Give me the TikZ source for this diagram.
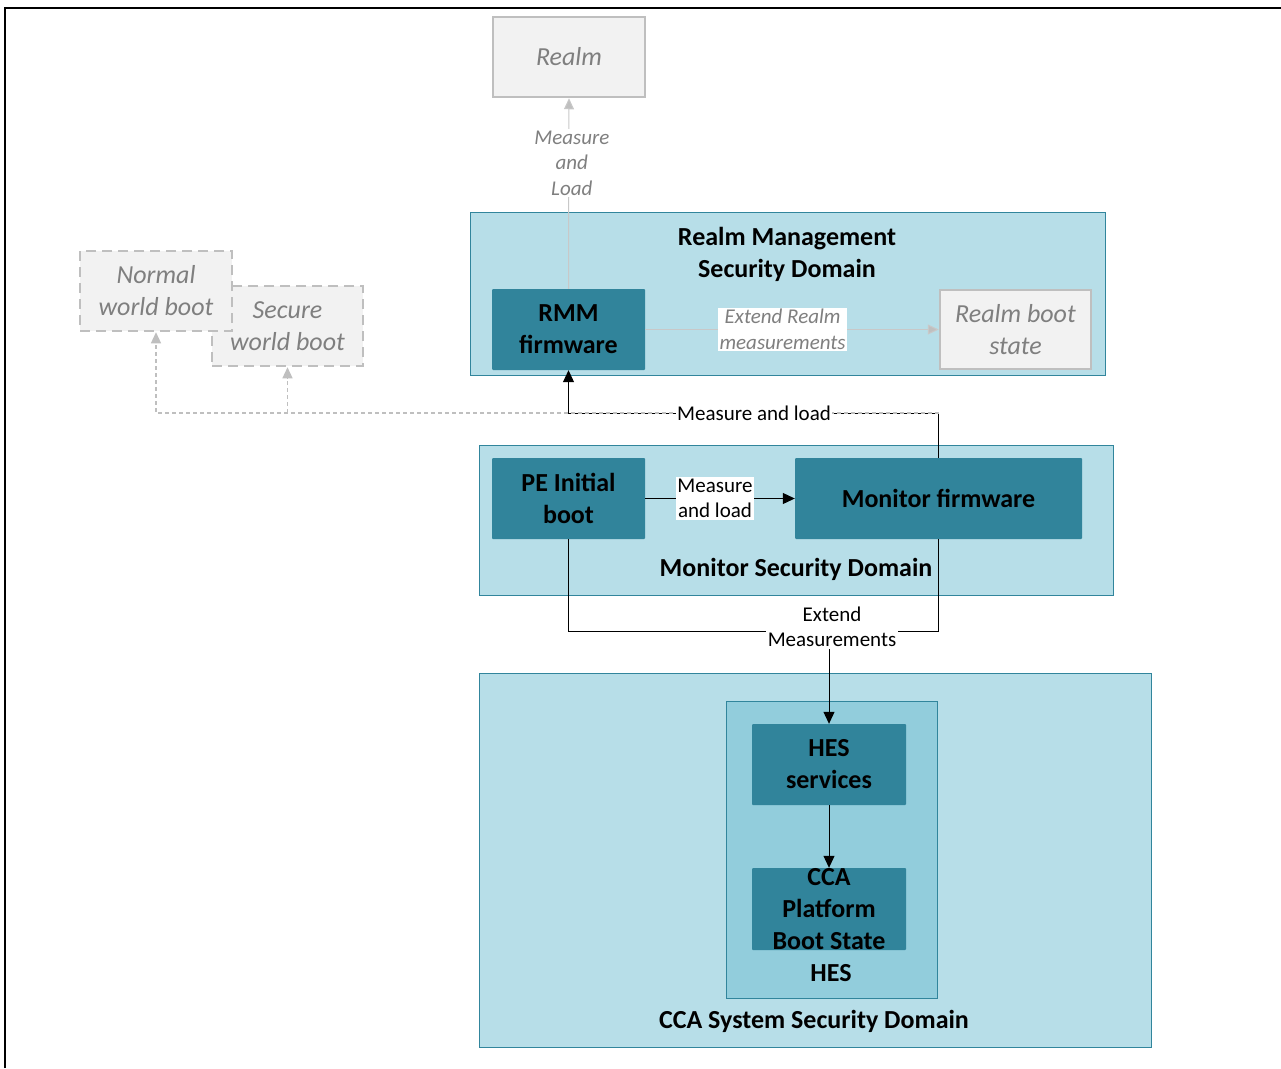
\documentclass[tikz,border=0pt]{standalone}
\usepackage{fontspec}
\setmainfont{Carlito}
\usetikzlibrary{arrows.meta}

\definecolor{tealfill}{HTML}{31849B}
\definecolor{domfill}{HTML}{B7DEE8}
\definecolor{domline}{HTML}{31859C}
\definecolor{hesfill}{HTML}{92CDDC}
\definecolor{paleback}{HTML}{F2F2F2}
\definecolor{paleline}{HTML}{BFBFBF}
\definecolor{paletext}{HTML}{7F7F7F}
\definecolor{thinline}{HTML}{C8C8C8}

\newcommand\bigtxt{\fontsize{26}{32}\selectfont}
\newcommand\smalltxt{\fontsize{21}{25.5}\selectfont}

\tikzset{
  secdomain/.style={rectangle, fill=domfill, draw=domline, line width=1pt, inner sep=0pt},
  hesdomain/.style={rectangle, fill=hesfill, draw=domline, line width=1pt, inner sep=0pt},
  tealbox/.style={rectangle, fill=tealfill, rounded corners=1pt, inner sep=0pt,
    align=center, font=\bigtxt\bfseries, text=black},
  palebox/.style={rectangle, fill=paleback, draw=paleline, line width=2.5pt, inner sep=0pt,
    align=center, font=\bigtxt\itshape, text=paletext},
  dashbox/.style={palebox, dash pattern=on 10pt off 6pt},
  domtitle/.style={inner sep=0pt, align=center, font=\bigtxt\bfseries, text=black},
  lbl/.style={fill=white, inner sep=1.5pt, align=center, font=\smalltxt, text=black},
  palelbl/.style={fill=white, inner sep=1.5pt, align=center, font=\smalltxt\itshape, text=paletext},
  blackarrow/.style={draw=black, line width=1pt, -{Triangle[length=12pt,width=11pt]}},
  blackline/.style={draw=black, line width=1pt},
  palearrow/.style={draw=thinline, line width=1pt, -{Triangle[length=11pt,width=10pt,fill=paleline]}},
  dasharrow/.style={draw=paleline, line width=1.2pt, dash pattern=on 4pt off 3pt,
    -{Triangle[length=11pt,width=10pt,fill=paleline]}},
}

\begin{document}
\begin{tikzpicture}[x=1pt,y=-1pt]
\useasboundingbox (0,0) rectangle (1281,1068);

% outer frame
\draw[line width=2pt] (5,1068) -- (5,8) -- (1281,8);

% domains
\node[secdomain, minimum width=635pt, minimum height=163pt] (rmsd) at (787.5,293.5) {};
\node[secdomain, minimum width=634pt, minimum height=150pt] (msd) at (796,520) {};
\node[secdomain, minimum width=672pt, minimum height=374pt] (ccasd) at (815,860) {};
\node[hesdomain, minimum width=211pt, minimum height=297pt] (hesd) at (831.5,849.5) {};

\node[domtitle] (rmsdtitle) at (787,254) {Realm Management\\Security Domain};
\node[domtitle] (msdtitle) at (796,569) {Monitor Security Domain};
\node[domtitle] (ccatitle) at (814,1021) {CCA System Security Domain};
\node[domtitle] (hestitle) at (831,973) {HES};

% pale boxes
\node[palebox, minimum width=152pt, minimum height=80pt] (realm) at (569,57) {Realm};
\node[palebox, minimum width=151pt, minimum height=79pt] (rbs) at (1015.5,329.5) {Realm boot\\state};
\node[dashbox, minimum width=151pt, minimum height=80pt] (secure) at (287.5,326) {Secure\\world boot};
\node[dashbox, minimum width=152pt, minimum height=80pt] (normal) at (156,291) {Normal\\world boot};

% firmware boxes
\node[tealbox, minimum width=153pt, minimum height=81pt] (rmm) at (568.5,329.5) {RMM\\firmware};
\node[tealbox, minimum width=153pt, minimum height=81pt] (pe) at (568.5,498.5) {PE Initial\\boot};
\node[tealbox, minimum width=287pt, minimum height=81pt] (mon) at (938.5,498.5) {Monitor firmware};
\node[tealbox, minimum width=154pt, minimum height=81pt] (hes) at (829,764.5) {HES\\services};
\node[tealbox, minimum width=154pt, minimum height=82pt] (pbs) at (829,909) {CCA\\Platform\\Boot State};

% connectors
\coordinate (ml) at (568.5,413);
\draw[blackarrow] (mon.north) |- (ml) -- (rmm.south);
\draw[dasharrow] (mon.north |- ml) -- (normal.south |- ml) -- (normal.south);
\draw[dasharrow] (secure.south |- ml) -- (secure.south);
\node[lbl] (mllbl) at (754,413) {Measure and load};

\draw[palearrow] (rmm.north) -- (realm.south)
  node[palelbl, pos=0.66, xshift=3pt] (mlload) {Measure\\and\\Load};
\draw[palearrow] (rmm.east) -- (rbs.west)
  node[palelbl, pos=0.468] (extrealm) {Extend Realm\\measurements};

\draw[blackarrow] (pe.east) -- (mon.west)
  node[lbl, pos=0.467] (peml) {Measure\\and load};

\coordinate (em) at (829,631);
\draw[blackline] (pe.south) |- (em) -| (mon.south);
\draw[blackarrow] (em) -- (hes.north);
\node[lbl] (emlbl) at (832,627) {Extend\\Measurements};

\draw[blackarrow] (hes.south) -- (pbs.north);
\end{tikzpicture}
\end{document}
